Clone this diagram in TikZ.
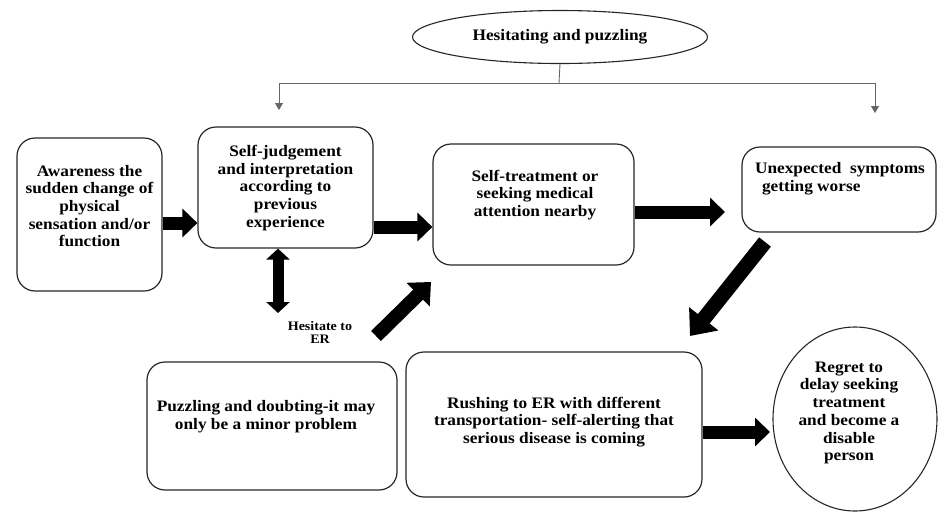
\documentclass[tikz,border=0pt]{standalone}
\usepackage{fontspec}
\setmainfont{Liberation Serif}[FakeStretch=1.08]
\usetikzlibrary{arrows.meta,shapes.geometric,calc}
\begin{document}
\begin{tikzpicture}[x=1pt,y=-1pt,
  box/.style={draw=black!85, line width=1.2pt, rounded corners=18pt, inner sep=0pt},
  txt/.style={align=center, font=\bfseries\fontsize{16}{17.7}\selectfont, inner sep=0pt},
  small/.style={align=center, font=\bfseries\fontsize{13}{13}\selectfont, inner sep=0pt},
  thin/.style={draw=black!60, line width=0.9pt},
  thintip/.style={thin, -{Triangle[length=7pt,width=8pt]}},
  fat/.style={line width=13pt, -{Triangle[length=15pt,width=28pt]}},
  fatter/.style={line width=15pt, -{Triangle[length=22pt,width=36pt]}},
  dbl/.style={line width=11pt, {Triangle[length=11pt,width=23pt]}-{Triangle[length=11pt,width=23pt]}}
]
\useasboundingbox (0,0) rectangle (938,512);

% top ellipse
\node[ellipse, draw=black!85, line width=1.1pt, minimum width=295pt, minimum height=53pt, inner sep=0pt] (H) at (560,37) {};
\node[txt] (Ht) at (560,37) {Hesitating and puzzling};

% boxes
\node[box, minimum width=145pt, minimum height=153pt] (A) at (89.5,214.5) {};
\node[txt] (At) at (89.5,206) {Awareness the\\sudden change of\\physical\\sensation and/or\\function};

\node[box, minimum width=175pt, minimum height=121pt] (B) at (285.5,187.5) {};
\node[txt] (Bt) at (285.5,188) {Self-judgement\\and interpretation\\according to\\previous\\experience};

\node[box, minimum width=201pt, minimum height=121pt] (C) at (533.5,204.5) {};
\node[txt] (Ct) at (535,195) {Self-treatment or\\seeking medical\\attention nearby};

\node[box, minimum width=194pt, minimum height=85pt] (D) at (839,189.5) {};
\node[txt, align=left] (Dt) at (840,179) {Unexpected\ \ symptoms\\\hspace*{7pt}getting worse};

\node[box, minimum width=250pt, minimum height=128pt] (E) at (272,426) {};
\node[txt] (Et) at (266,417) {Puzzling and doubting-it may\\only be a minor problem};

\node[box, minimum width=296pt, minimum height=145pt] (F) at (554,424.5) {};
\node[txt] (Ft) at (554,422) {Rushing to ER with different\\transportation- self-alerting that\\serious disease is coming};

\node[ellipse, draw=black!85, line width=1.1pt, minimum width=164pt, minimum height=184pt, inner sep=0pt] (G) at (855,419) {};
\node[txt] (Gt) at (849,413) {Regret to\\delay seeking\\treatment\\and become a\\disable\\person};

\node[small] (L) at (320,332) {Hesitate to\\ER};

% grey connectors
\coordinate (j) at (559,83);
\coordinate (bl) at (279,110);
\coordinate (dr) at (875,113);
\draw[thin] (H.south) -- (j);
\draw[thintip] (j) -| (bl);
\draw[thintip] (j) -| (dr);

% thick arrows
\draw[fat] (A.east |- 0,223) -- (B.west |- 0,223);
\draw[fat] (B.east |- 0,227) -- (C.west |- 0,227);
\draw[fat] (C.east |- 0,212) -- (725,212) coordinate (cd);
\draw[fat] (F.east |- 0,432) -- (770,432) coordinate (fg);
\draw[dbl] (B.south -| 278,0) -- (278,313) coordinate (bd);
\coordinate (dtail) at (765,242);
\coordinate (dtip) at (690,336);
\draw[fatter] (dtail) -- (dtip);
\coordinate (htail) at (376,336);
\coordinate (htip) at (431,282);
\draw[fatter, line width=14pt, -{Triangle[length=18pt,width=32pt]}] (htail) -- (htip);
\end{tikzpicture}
\end{document}
